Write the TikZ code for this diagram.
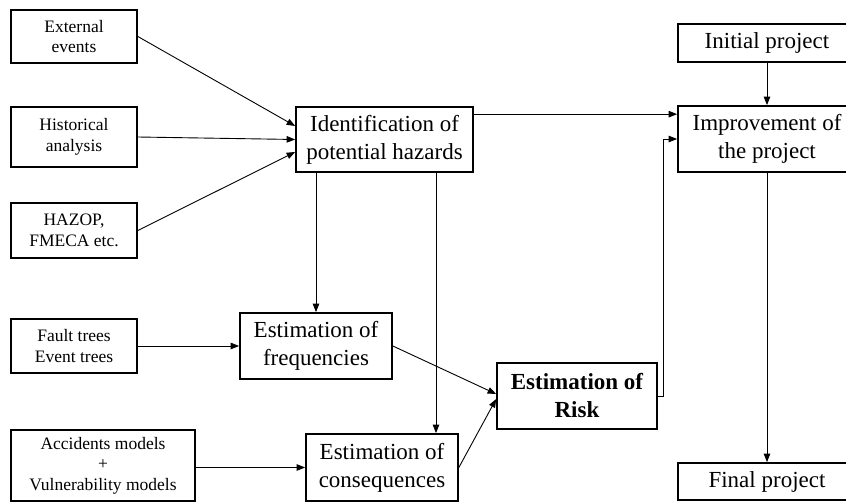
\documentclass[tikz,border=0pt]{standalone}
\usepackage{fontspec}
\setmainfont{Liberation Serif}
\usetikzlibrary{arrows.meta}
\begin{document}
\begin{tikzpicture}[x=1pt,y=-1pt,
  box/.style={draw,line width=1.7pt,rectangle,align=center,inner sep=0pt},
  small/.style={box,font=\fontsize{17.5}{20.5}\selectfont},
  big/.style={box,font=\fontsize{23}{28}\selectfont},
  arr/.style={line width=0.9pt,-{Triangle[length=8.5pt,width=6.5pt]}}]
\useasboundingbox (0,0) rectangle (846,502);
% left inputs
\node[small,minimum width=126pt,minimum height=53pt] (ext) at (74,36.5) {External\\events};
\node[small,minimum width=126pt,minimum height=60pt] (hist) at (74,137) {Historical\\analysis};
\node[small,minimum width=126pt,minimum height=55pt] (haz) at (74,230.5) {HAZOP,\\FMECA etc.};
\node[small,minimum width=126pt,minimum height=54pt] (fault) at (74,346) {Fault trees\\Event trees};
\node[small,minimum width=184pt,minimum height=71pt] (acc) at (103,465.5) {Accidents models\\+\\Vulnerability models};
% middle
\node[big,minimum width=177pt,minimum height=65pt] (ident) at (384.5,139.5) {Identification of\\potential hazards};
\node[big,minimum width=152pt,minimum height=66pt] (freq) at (316,346) {Estimation of\\frequencies};
\node[big,minimum width=152pt,minimum height=67pt] (cons) at (382,467.5) {Estimation of\\consequences};
\node[big,font=\fontsize{23}{28}\selectfont\bfseries,minimum width=160pt,minimum height=66pt] (risk) at (577,396) {Estimation of\\Risk};
% right
\node[big,minimum width=178pt,minimum height=38pt] (init) at (767,43) {Initial project};
\node[big,minimum width=178pt,minimum height=66pt] (impr) at (767,139) {Improvement of\\the project};
\node[big,minimum width=178pt,minimum height=37pt] (final) at (767,481.5) {Final project};
% connectors
\draw[arr] (ext.east) -- ([yshift=13.5pt]ident.west);
\draw[arr] (hist.east) -- (ident.west);
\draw[arr] (haz.east) -- ([yshift=-12.5pt]ident.west);
\draw[arr] ([yshift=-8pt]ident.north east) -- ([yshift=-9pt]impr.north west);
\draw[arr] (init.south) -- (impr.north);
\draw[arr] (impr.south) -- (final.north);
\draw[arr] (risk.east) -- ++(6,0) |- (impr.west);
\draw[arr] (freq.north |- ident.south) -- (freq.north);
\draw[arr] ([xshift=54pt]cons.north |- ident.south) -- ([xshift=54pt]cons.north);
\draw[arr] (fault.east) -- (freq.west);
\draw[arr] (acc.east |- cons.west) -- (cons.west);
\draw[arr] (freq.east) -- ([yshift=2pt]risk.west);
\draw[arr] (cons.east) -- ([yshift=-3pt]risk.west);
\end{tikzpicture}
\end{document}
